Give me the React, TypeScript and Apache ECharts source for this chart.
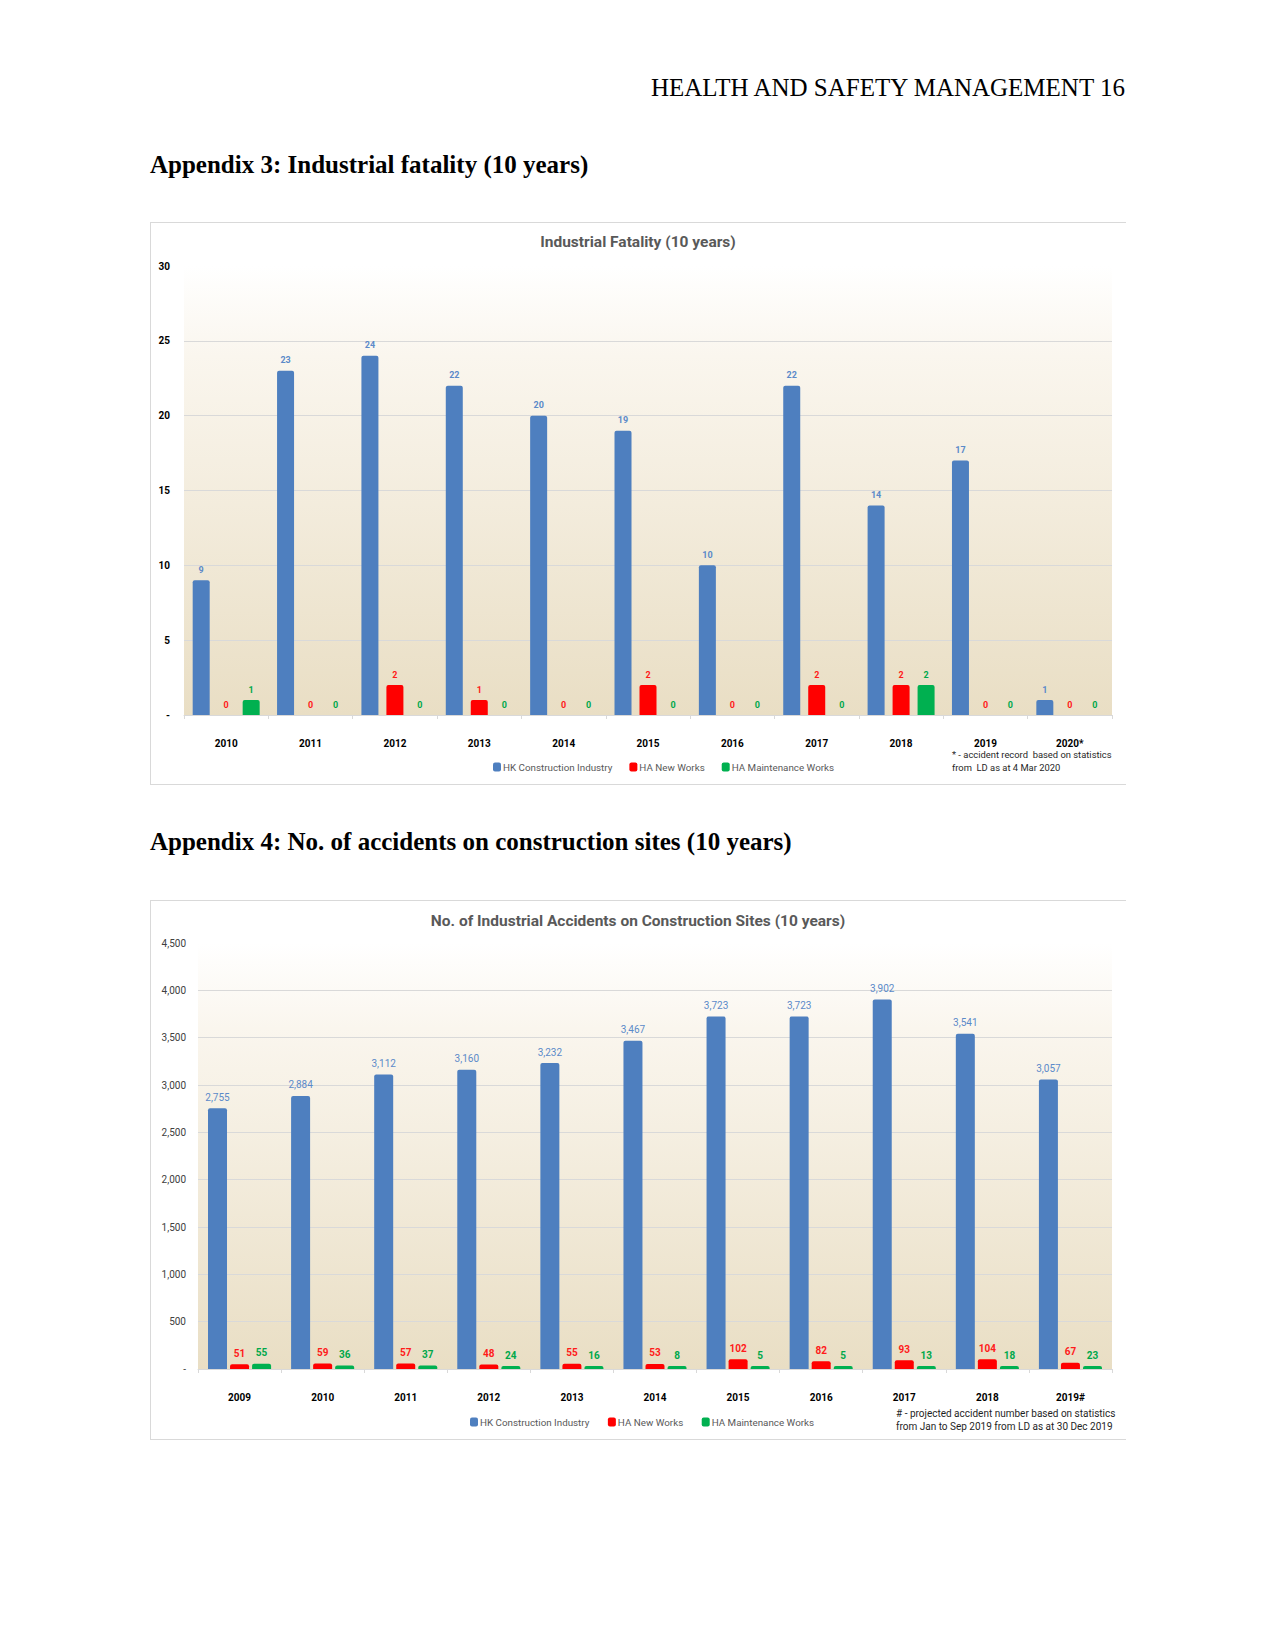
import React, { useEffect, useRef } from "react";
import * as echarts from "echarts";

// ---------- Data ----------
const fatalYears = ["2010", "2011", "2012", "2013", "2014", "2015", "2016", "2017", "2018", "2019", "2020*"];
const fatalHK = [9, 23, 24, 22, 20, 19, 10, 22, 14, 17, 1];
const fatalHANew = [0, 0, 2, 1, 0, 2, 0, 2, 2, 0, 0];
const fatalHAMaint = [1, 0, 0, 0, 0, 0, 0, 0, 2, 0, 0];

const accYears = ["2009", "2010", "2011", "2012", "2013", "2014", "2015", "2016", "2017", "2018", "2019#"];
const accHK = [2755, 2884, 3112, 3160, 3232, 3467, 3723, 3723, 3902, 3541, 3057];
const accHANew = [51, 59, 57, 48, 55, 53, 102, 82, 93, 104, 67];
const accHAMaint = [55, 36, 37, 24, 16, 8, 5, 5, 13, 18, 23];

const seriesNames = ["HK Construction Industry", "HA New Works", "HA Maintenance Works"];

const FONT = "Roboto, 'Open Sans', sans-serif";
const BLUE = "#4E7FBF";
const RED = "#FF0000";
const GREEN = "#00B050";

function makeOption(cfg: any) {
  const lineColors: string[] = [];
  const n = Math.round(cfg.max / cfg.interval) + 1;
  for (let i = 0; i < n; i++) {
    lineColors.push(i === 0 || i === n - 1 ? "rgba(0,0,0,0)" : "#D9D9D9");
  }
  const bar = (name: string, data: number[], color: string, labelColor: string, bold: boolean) => ({
    name,
    type: "bar",
    data,
    barWidth: cfg.barWidth,
    barGap: cfg.barGap,
    barMinHeight: cfg.barMinHeight,
    itemStyle: { color, borderRadius: [2, 2, 0, 0] },
    label: {
      show: true,
      position: "top",
      distance: cfg.labelDistance,
      color: labelColor,
      fontFamily: FONT,
      fontSize: cfg.labelSize,
      fontWeight: bold ? "bold" : "normal",
      formatter: (p: any) => Number(p.value).toLocaleString("en-US"),
    },
  });
  return {
    animation: false,
    title: {
      text: cfg.title,
      left: "center",
      top: cfg.titleTop,
      padding: 0,
      textStyle: { fontFamily: FONT, fontSize: cfg.titleSize, fontWeight: "bold", color: "#595959" },
    },
    grid: {
      left: cfg.gridLeft,
      right: 14,
      top: cfg.gridTop,
      bottom: cfg.gridBottom,
      show: true,
      borderWidth: 0,
      backgroundColor: new echarts.graphic.LinearGradient(0, 0, 0, 1, [
        { offset: 0, color: "#FFFFFF" },
        { offset: 0.2, color: "#FAF6EE" },
        { offset: 1, color: "#E9DEC4" },
      ]),
    },
    legend: {
      data: seriesNames,
      left: cfg.legendLeft,
      top: cfg.legendTop,
      padding: 0,
      itemWidth: 8,
      itemHeight: 9,
      itemGap: cfg.legendGap,
      icon: "roundRect",
      textStyle: { fontFamily: FONT, fontSize: 9.8, color: "#595959", padding: [0, 0, 0, -3] },
    },
    xAxis: {
      type: "category",
      data: cfg.categories,
      axisLine: { show: true, lineStyle: { color: "#D9D9D9", width: 1 } },
      axisTick: { show: true, length: 4, lineStyle: { color: "#D9D9D9" } },
      axisLabel: {
        margin: cfg.xLabelMargin,
        fontFamily: FONT,
        fontSize: 10,
        fontWeight: "bold",
        color: "#000000",
      },
    },
    yAxis: {
      type: "value",
      min: 0,
      max: cfg.max,
      interval: cfg.interval,
      axisLine: { show: false },
      axisTick: { show: false },
      splitLine: { show: true, lineStyle: { color: lineColors, width: 1 } },
      axisLabel: {
        margin: cfg.yLabelMargin,
        fontFamily: FONT,
        fontSize: 10,
        fontWeight: cfg.yBold ? "bold" : "normal",
        color: cfg.yBold ? "#000000" : "#404040",
        formatter: (v: number) => (v === 0 ? "-" : v.toLocaleString("en-US")),
      },
    },
    graphic: [
      {
        type: "text",
        left: cfg.noteLeft,
        top: cfg.noteTop,
        style: {
          text: cfg.note,
          fontFamily: FONT,
          fontSize: cfg.noteSize,
          lineHeight: 13,
          fill: "#1F1F1F",
        },
      },
    ],
    series: [
      bar(seriesNames[0], cfg.hk, BLUE, "#5B8AC9", cfg.blueBold),
      bar(seriesNames[1], cfg.haNew, RED, "#FF1A1A", true),
      bar(seriesNames[2], cfg.haMaint, GREEN, "#00A84B", true),
    ],
  };
}

function Chart({ option, style }: { option: any; style: React.CSSProperties }) {
  const ref = useRef<HTMLDivElement>(null);
  useEffect(() => {
    if (!ref.current) return;
    const chart = echarts.init(ref.current, undefined, { renderer: "svg" });
    chart.setOption(option);
    return () => chart.dispose();
  }, [option]);
  return <div ref={ref} style={style} />;
}

const fatalOption = makeOption({
  title: "Industrial Fatality (10 years)",
  titleTop: 12,
  titleSize: 15.5,
  categories: fatalYears,
  hk: fatalHK,
  haNew: fatalHANew,
  haMaint: fatalHAMaint,
  max: 30,
  interval: 5,
  gridLeft: 34,
  gridTop: 44,
  gridBottom: 70,
  barWidth: 17,
  barGap: "47%",
  barMinHeight: 0,
  labelDistance: 6,
  labelSize: 9,
  blueBold: true,
  yBold: true,
  yLabelMargin: 14,
  xLabelMargin: 23,
  legendLeft: 343,
  legendTop: 540,
  legendGap: 17,
  noteLeft: 802,
  noteTop: 526,
  noteSize: 9.4,
  note: "* - accident record  based on statistics\nfrom  LD as at 4 Mar 2020",
});

const accOption = makeOption({
  title: "No. of Industrial Accidents on Construction Sites (10 years)",
  titleTop: 13,
  titleSize: 15.5,
  categories: accYears,
  hk: accHK,
  haNew: accHANew,
  haMaint: accHAMaint,
  max: 4500,
  interval: 500,
  gridLeft: 48,
  gridTop: 43,
  gridBottom: 71,
  barWidth: 19,
  barGap: "16%",
  barMinHeight: 3,
  labelDistance: 6,
  labelSize: 10,
  blueBold: false,
  yBold: false,
  yLabelMargin: 12,
  xLabelMargin: 23,
  legendLeft: 320,
  legendTop: 517,
  legendGap: 18.5,
  noteLeft: 746,
  noteTop: 507,
  noteSize: 10,
  note: "# - projected accident number based on statistics\nfrom Jan to Sep 2019 from LD as at 30 Dec 2019",
});

const serif = "'Liberation Serif', 'Times New Roman', serif";

export default function App() {
  const box = (top: number, height: number): React.CSSProperties => ({
    position: "absolute",
    left: 150,
    top,
    width: 976,
    height,
    boxSizing: "border-box",
    borderTop: "1px solid #D9D9D9",
    borderLeft: "1px solid #D9D9D9",
    borderBottom: "1px solid #D9D9D9",
  });
  return (
    <div style={{ position: "absolute", left: 0, top: 0, width: 1275, height: 1651, background: "#fff" }}>
      <div
        style={{
          position: "absolute",
          left: 0,
          top: 75,
          width: 1125,
          textAlign: "right",
          fontFamily: serif,
          fontSize: 25,
          lineHeight: "25px",
          color: "#000",
        }}
      >
        HEALTH AND SAFETY MANAGEMENT 16
      </div>
      <div
        style={{
          position: "absolute",
          left: 150,
          top: 152,
          fontFamily: serif,
          fontSize: 25,
          lineHeight: "25px",
          fontWeight: "bold",
          color: "#000",
        }}
      >
        Appendix 3: Industrial fatality (10 years)
      </div>
      <div style={box(222, 563)} />
      <Chart option={fatalOption} style={{ position: "absolute", left: 150, top: 222, width: 976, height: 563 }} />
      <div
        style={{
          position: "absolute",
          left: 150,
          top: 829,
          fontFamily: serif,
          fontSize: 25,
          lineHeight: "25px",
          fontWeight: "bold",
          color: "#000",
        }}
      >
        Appendix 4: No. of accidents on construction sites (10 years)
      </div>
      <div style={box(900, 540)} />
      <Chart option={accOption} style={{ position: "absolute", left: 150, top: 900, width: 976, height: 540 }} />
    </div>
  );
}
